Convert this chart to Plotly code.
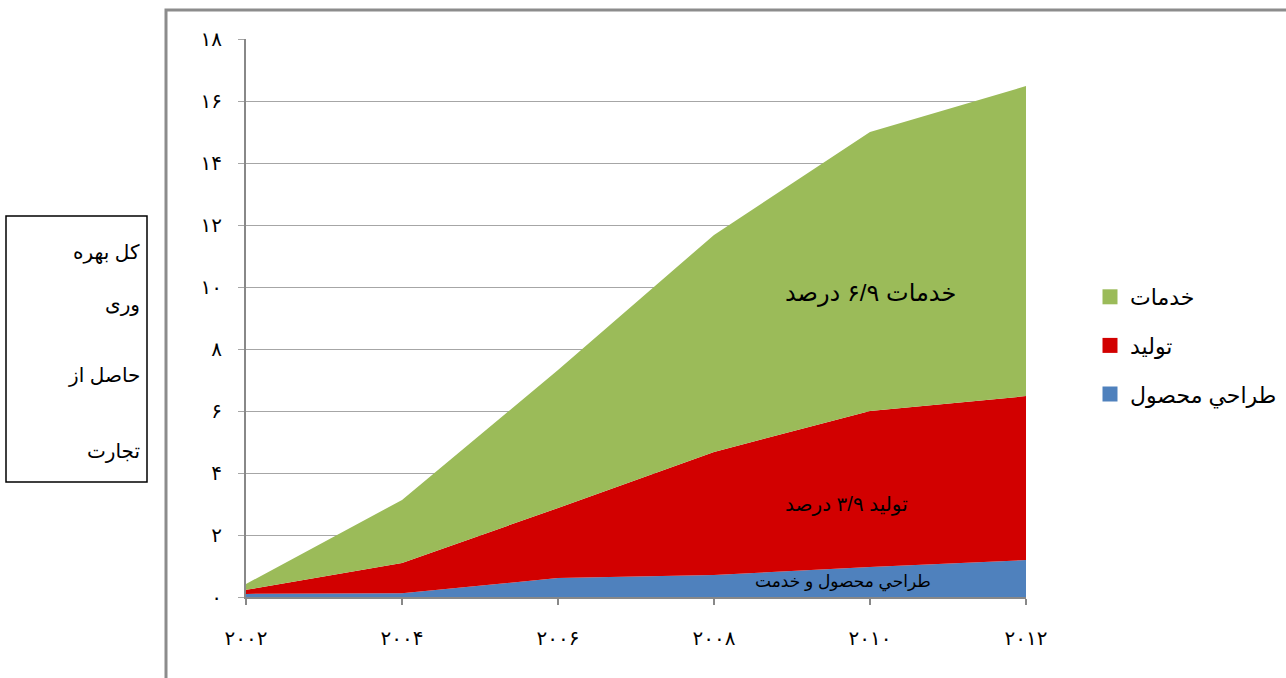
import plotly.graph_objects as go

years = [2002, 2004, 2006, 2008, 2010, 2012]
year_labels = ["۲۰۰۲", "۲۰۰۴", "۲۰۰۶", "۲۰۰۸", "۲۰۱۰", "۲۰۱۲"]
design = [0.10, 0.12, 0.61, 0.71, 0.97, 1.19]
production = [0.13, 0.98, 2.26, 3.97, 5.03, 5.29]
services = [0.19, 2.03, 4.45, 7.00, 9.00, 10.00]
y_ticks = [0, 2, 4, 6, 8, 10, 12, 14, 16, 18]
y_tick_labels = ["۰", "۲", "۴", "۶", "۸", "۱۰", "۱۲", "۱۴", "۱۶", "۱۸"]

series_names = ["طراحي محصول", "تولید", "خدمات"]
colors = ["#4F81BD", "#D20000", "#9BBB59"]

FONT = "Arial, Liberation Sans, DejaVu Sans, sans-serif"

fig = go.Figure()
for name, vals, col in zip(series_names, [design, production, services], colors):
    fig.add_trace(go.Scatter(
        x=years, y=vals, name=name, stackgroup="one", mode="none",
        fillcolor=col, line=dict(width=0), showlegend=False, hoverinfo="x+y+name",
    ))
# legend entries with square swatches (top of stack listed first)
for name, col in zip(series_names[::-1], colors[::-1]):
    fig.add_trace(go.Scatter(
        x=[None], y=[None], name=name, mode="markers", legendgroup=name,
        marker=dict(symbol="square", size=15, color=col), showlegend=True,
    ))

fig.update_layout(
    width=1286, height=678,
    margin=dict(l=246, r=260, t=39, b=81, autoexpand=False),
    paper_bgcolor="white", plot_bgcolor="white",
    font=dict(family=FONT, color="black"),
    showlegend=True,
    legend=dict(
        xref="container", yref="container",
        x=1090 / 1286, y=1 - 276 / 678, xanchor="left", yanchor="top",
        traceorder="grouped", tracegroupgap=17, font=dict(size=22, family=FONT),
        itemwidth=30, bgcolor="rgba(0,0,0,0)",
    ),
    xaxis=dict(
        range=[2002, 2012], tickvals=years, ticktext=year_labels,
        showgrid=False, showline=True, linecolor="#888888", linewidth=2,
        ticks="outside", ticklen=6, tickcolor="#888888", tickwidth=2,
        tickfont=dict(size=20), ticklabelstandoff=16, zeroline=False,
    ),
    yaxis=dict(
        range=[0, 18], tickvals=y_ticks, ticktext=y_tick_labels,
        showgrid=True, gridcolor="#A6A6A6", gridwidth=1,
        showline=True, linecolor="#888888", linewidth=2,
        ticks="outside", ticklen=6, tickcolor="#A6A6A6", tickwidth=1,
        tickfont=dict(size=20), ticklabelstandoff=12, zeroline=False,
    ),
)

# outer frame (top and left edges)
fig.add_shape(type="path", xref="paper", yref="paper",
              path=f"M {(166-246)/780} {(597-680)/558} L {(166-246)/780} {(597-10)/558} L {(1290-246)/780} {(597-10)/558}",
              line=dict(color="#8C8C8C", width=3))

# left box
fig.add_shape(type="rect", xref="paper", yref="paper",
              x0=(6-246)/780, x1=(147-246)/780, y0=(597-482)/558, y1=(597-216)/558,
              line=dict(color="black", width=1.5), fillcolor="white")

box_lines = ["کل بهره", "وری", "حاصل از", "تجارت"]
box_y = [252, 304, 375, 452]
for t, py in zip(box_lines, box_y):
    fig.add_annotation(text=t, xref="paper", yref="paper", x=(142-246)/780, y=(597-py)/558,
                       xanchor="right", yanchor="middle", showarrow=False, font=dict(size=20))

fig.add_annotation(text="خدمات ۶/۹ درصد", x=2010.0, y=9.8, showarrow=False, font=dict(size=24))
fig.add_annotation(text="تولید ۳/۹ درصد", x=2009.7, y=3.0, showarrow=False, font=dict(size=20))
fig.add_annotation(text="طراحي محصول و خدمت", x=2009.65, y=0.48, showarrow=False, font=dict(size=17))

fig.write_html("out.html")
